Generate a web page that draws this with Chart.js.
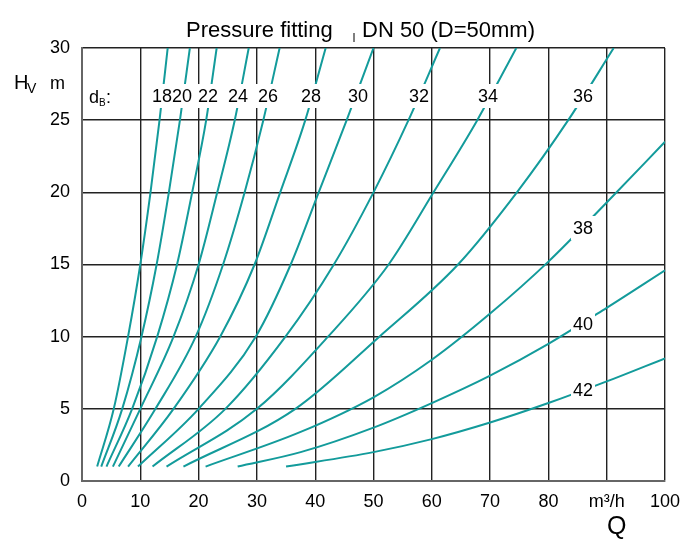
<!DOCTYPE html>
<html>
<head>
<meta charset="utf-8">
<script src="https://cdn.jsdelivr.net/npm/chart.js@4"></script>
<style>
  body { margin: 0; background: #fff; }
  canvas { display: block; }
</style>
</head>
<body>
<canvas id="myChart" width="697" height="540"></canvas>
<script>
// nozzle diameters d_B (mm)
const diameters = [18, 20, 22, 24, 26, 28, 30, 32, 34, 36, 38, 40, 42];

// Q in m3/h and H_V in m
const q18 = [2.6, 5.45, 7.9, 10.0, 11.75, 13.3, 14.7];
const h18 = [1, 5, 10, 15, 20, 25, 30];
const q20 = [3.3, 6.9, 10.2, 12.8, 14.9, 16.8, 18.5];
const h20 = [1, 5, 10, 15, 20, 25, 30];
const q22 = [4.2, 8.6, 12.9, 16.3, 18.9, 21.3, 23.1];
const h22 = [1, 5, 10, 15, 20, 25, 30];
const q24 = [5.3, 10.0, 15.7, 20.0, 23.2, 26.2, 28.6];
const h24 = [1, 5, 10, 15, 20, 25, 30];
const q26 = [6.3, 12.6, 19.5, 24.2, 27.9, 31.1, 33.9];
const h26 = [1, 5, 10, 15, 20, 25, 30];
const q28 = [7.9, 15.7, 23.7, 29.6, 34.0, 38.3, 41.8];
const h28 = [1, 5, 10, 15, 20, 25, 30];
const q30 = [9.6, 20.0, 29.8, 35.8, 40.6, 45.4, 50.0];
const h30 = [1, 5, 10, 15, 20, 25, 30];
const q32 = [12.1, 24.6, 34.9, 43.2, 50.0, 56.0, 61.4];
const h32 = [1, 5, 10, 15, 20, 25, 30];
const q34 = [14.5, 30.0, 42.2, 52.6, 60.3, 67.8, 74.5];
const h34 = [1, 5, 10, 15, 20, 25, 30];
const q36 = [17.4, 36.6, 51.0, 64.5, 74.6, 83.4, 91.2];
const h36 = [1, 5, 10, 15, 20, 25, 30];
const q38 = [21.2, 37.5, 50, 60, 70, 80, 90, 100];
const h38 = [1, 3.4, 5.8, 8.4, 11.6, 15.2, 19.3, 23.5];
const q40 = [26.7, 37.5, 50, 60, 70, 80, 90, 100];
const h40 = [1, 2.0, 3.7, 5.4, 7.3, 9.5, 12.0, 14.6];
const q42 = [35.0, 50, 60, 70, 80, 90, 100];
const h42 = [1, 2.0, 2.9, 4.05, 5.4, 6.9, 8.5];

const flows = [q18, q20, q22, q24, q26, q28, q30, q32, q34, q36, q38, q40, q42];
const heads = [h18, h20, h22, h24, h26, h28, h30, h32, h34, h36, h38, h40, h42];

const lineColor = "#139b9b";
const font = '"Liberation Sans", Arial, sans-serif';

// label spots (pixel) for each curve, in the same order as diameters
const labelSpots = [
	[162, 96], [182, 96], [208, 96], [238, 96], [268, 96], [311, 96],
	[358, 96], [419, 96], [488, 96], [583, 96], [583, 228], [583, 324], [583, 390],
];

const datasets = diameters.map((d, i) => ({
	label: "d" + d,
	data: flows[i].map((q, j) => ({ x: q, y: heads[i][j] })),
	borderColor: lineColor,
	borderWidth: 2,
	pointRadius: 0,
	fill: false,
	cubicInterpolationMode: "monotone",
}));

// texts around the plot and labels on the curves
const textPlugin = {
	id: "texts",
	afterDatasetsDraw(chart) {
		const ctx = chart.ctx;
		ctx.save();
		ctx.fillStyle = "#000";

		// curve labels with white box behind
		ctx.font = "18px " + font;
		ctx.textAlign = "center";
		ctx.textBaseline = "middle";
		diameters.forEach((d, i) => {
			const [x, y] = labelSpots[i];
			const w = ctx.measureText(String(d)).width;
			ctx.fillStyle = "#fff";
			ctx.fillRect(x - w / 2 - 2, y - 12, w + 4, 24);
		});
		ctx.fillStyle = "#000";
		diameters.forEach((d, i) => {
			const [x, y] = labelSpots[i];
			ctx.fillText(String(d), x, y + 1);
		});

		// d_B:
		ctx.textAlign = "left";
		ctx.textBaseline = "alphabetic";
		ctx.font = "18px " + font;
		ctx.fillText("d", 89, 103);
		ctx.font = "10px " + font;
		ctx.fillText("B", 99, 106);
		ctx.font = "18px " + font;
		ctx.fillText(":", 106, 103);

		// title
		ctx.font = "22px " + font;
		ctx.fillText("Pressure fitting", 186, 37);
		ctx.fillText("DN 50 (D=50mm)", 362, 37);
		ctx.fillRect(353.5, 33, 1, 9);

		// y axis title
		ctx.font = "20px " + font;
		ctx.fillText("H", 14, 89);
		ctx.font = "14px " + font;
		ctx.fillText("V", 27, 93);
		ctx.font = "18px " + font;
		ctx.fillText("m", 50, 89);

		// x axis title
		ctx.font = "25px " + font;
		ctx.fillText("Q", 607, 534);
		ctx.restore();
	},
};

new Chart(document.getElementById("myChart"), {
	type: "line",
	data: { datasets: datasets },
	options: {
		responsive: false,
		animation: false,
		layout: { padding: { top: 48, right: 32, left: 0, bottom: 0 } },
		scales: {
			x: {
				type: "linear",
				min: 0,
				max: 100,
				afterFit: (scale) => { scale.height = 59; },
				ticks: {
					stepSize: 10,
					padding: 10,
					color: "#000",
					font: { size: 18, family: font },
					callback: (v) => (v === 90 ? "m³/h" : v),
				},
				grid: { color: "#222", lineWidth: 1.4, drawTicks: false },
				border: { color: "#666", width: 2 },
			},
			y: {
				min: 0,
				max: 30,
				afterFit: (scale) => { scale.width = 82; },
				ticks: {
					stepSize: 5,
					padding: 12,
					color: "#000",
					font: { size: 18, family: font },
				},
				grid: { color: "#222", lineWidth: 1.4, drawTicks: false },
				border: { color: "#666", width: 2 },
			},
		},
		plugins: {
			legend: { display: false },
			tooltip: { enabled: false },
			title: { display: false },
		},
	},
	plugins: [textPlugin],
});
</script>
</body>
</html>
